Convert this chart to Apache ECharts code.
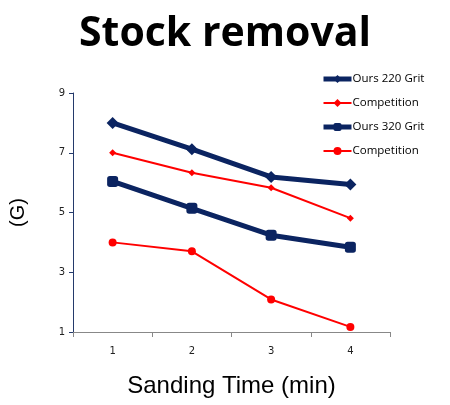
<!DOCTYPE html>
<html><head><meta charset="utf-8">
<script src="https://cdn.jsdelivr.net/npm/echarts@6/dist/echarts.min.js"></script>
<style>html,body{margin:0;padding:0;background:#fff}#c{width:450px;height:405px}</style>
</head><body><div id="c"></div>
<script>
var categories = ['1', '2', '3', '4'];
var ours220 = [8.0, 7.12, 6.19, 5.94];
var comp220 = [7.0, 6.33, 5.83, 4.81];
var ours320 = [6.04, 5.14, 4.24, 3.84];
var comp320 = [4.0, 3.7, 2.09, 1.17];
var yTicks = [1, 3, 5, 7, 9];
var seriesNames = ['Ours 220 Grit', 'Competition', 'Ours 320 Grit', 'Competition '];

var navy = '#0b2461', red = '#ff0000';
var chart = echarts.init(document.getElementById('c'));
chart.setOption({
  animation: false,
  title: {
    text: 'Stock removal', left: 'center', top: 9,
    textStyle: { fontFamily: 'Open Sans', fontWeight: 'bold', fontSize: 41, color: '#000' }
  },
  legend: {
    orient: 'vertical', left: 321, top: 73, padding: 0, itemWidth: 28, itemHeight: 10, itemGap: 12,
    textStyle: { fontFamily: 'Open Sans', fontSize: 11.5, color: '#000', padding: [0, 0, 0, -4] },
    data: [
      { name: seriesNames[0], lineStyle: { width: 5 } },
      { name: seriesNames[1], lineStyle: { width: 2 } },
      { name: seriesNames[2], lineStyle: { width: 5 } },
      { name: seriesNames[3], lineStyle: { width: 2 } }
    ]
  },
  grid: { left: 73, right: 60, top: 93, bottom: 73, containLabel: false },
  xAxis: {
    type: 'category', data: categories, boundaryGap: true,
    name: 'Sanding Time (min)', nameLocation: 'middle', nameGap: 42,
    nameTextStyle: { fontFamily: 'Liberation Sans', fontSize: 24, color: '#000' },
    axisLine: { lineStyle: { color: '#888' } },
    axisTick: { show: true, alignWithLabel: false, length: 5, lineStyle: { color: '#888' } },
    axisLabel: { fontFamily: 'DejaVu Sans', fontSize: 10, color: '#222', margin: 14 }
  },
  yAxis: {
    type: 'value', min: yTicks[0], max: yTicks[yTicks.length - 1], interval: 2,
    name: '(G)', nameLocation: 'middle', nameGap: 45, nameRotate: 90,
    nameTextStyle: { fontFamily: 'Liberation Sans', fontSize: 20, color: '#000' },
    axisLine: { show: true, lineStyle: { color: '#243a6b' } },
    axisTick: { show: true, length: 4, lineStyle: { color: '#243a6b' } },
    splitLine: { show: false },
    axisLabel: { fontFamily: 'DejaVu Sans', fontSize: 10, color: '#222', margin: 8 }
  },
  series: [
    { name: seriesNames[0], type: 'line', data: ours220, symbol: 'diamond', symbolSize: 12,
      lineStyle: { width: 5, color: navy }, itemStyle: { color: navy } },
    { name: seriesNames[1], type: 'line', data: comp220, symbol: 'diamond', symbolSize: 7,
      lineStyle: { width: 2, color: red }, itemStyle: { color: red } },
    { name: seriesNames[2], type: 'line', data: ours320, symbol: 'roundRect', symbolSize: 11,
      lineStyle: { width: 5, color: navy }, itemStyle: { color: navy } },
    { name: seriesNames[3], type: 'line', data: comp320, symbol: 'circle', symbolSize: 8,
      lineStyle: { width: 2, color: red }, itemStyle: { color: red } }
  ]
});
</script></body></html>
